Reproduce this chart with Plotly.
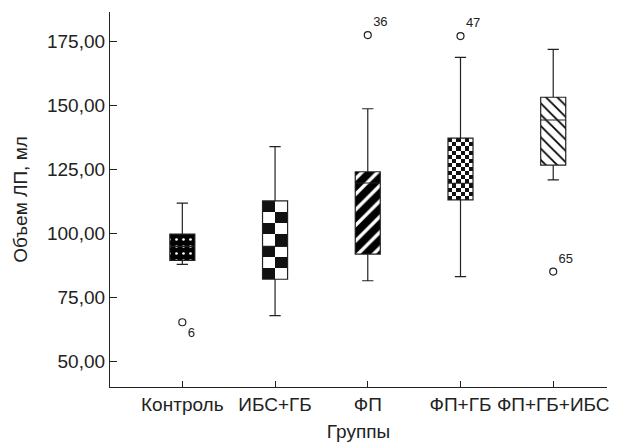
import plotly.graph_objects as go

categories = ["Контроль", "ИБС+ГБ", "ФП", "ФП+ГБ", "ФП+ГБ+ИБС"]
q1 = [89.6, 82.2, 92.0, 113.2, 126.8]
median = [95.0, 95.0, 119.8, 119.7, 144.4]
q3 = [99.8, 112.8, 124.2, 137.3, 153.3]
lower = [88.0, 68.0, 81.6, 83.2, 121.0]
upper = [111.9, 134.0, 148.8, 168.9, 172.0]

out_x = ["Контроль", "ФП", "ФП+ГБ", "ФП+ГБ+ИБС"]
out_y = [65.4, 177.6, 177.2, 85.2]
out_lbl = ["6", "36", "47", "65"]
out_pos = ["bottom right", "top right", "top right", "top right"]

y_ticks = [50, 75, 100, 125, 150, 175]
y_ticktext = ["50,00", "75,00", "100,00", "125,00", "150,00", "175,00"]

BW = 0.27
FONT = "Liberation Sans, Arial, sans-serif"
FS = 19

fig = go.Figure()

patterns = {
    "Контроль": dict(shape=".", fgcolor="white", bgcolor="#000", size=7, solidity=0.12, fgopacity=1),
    "ФП": dict(shape="/", fgcolor="#000", bgcolor="white", size=11, solidity=0.7, fgopacity=1),
    "ФП+ГБ+ИБС": dict(shape="\\", fgcolor="#000", bgcolor="white", size=8, solidity=0.22, fgopacity=1),
}

for i, c in enumerate(categories):
    if c in patterns:
        fig.add_trace(go.Bar(
            x=[c], y=[q3[i] - q1[i]], base=[q1[i]], width=BW,
            marker=dict(color="white", pattern=patterns[c], line=dict(width=0)),
            showlegend=False, hoverinfo="skip"))

def checker(cat, lo, hi, ncols, nrows):
    h = (hi - lo) / nrows
    w = BW / ncols
    for r in range(nrows):
        for col in range(ncols):
            color = "#111" if (r + col) % 2 == 0 else "white"
            fig.add_trace(go.Bar(
                x=[cat], y=[h], base=[lo + r * h], width=w,
                offset=-BW / 2 + col * w,
                marker=dict(color=color, line=dict(width=0)),
                showlegend=False, hoverinfo="skip"))

checker("ИБС+ГБ", q1[1], q3[1], 2, 7)
checker("ФП+ГБ", q1[3], q3[3], 6, 15)

fig.add_trace(go.Box(
    x=categories, q1=q1, median=median, q3=q3,
    lowerfence=lower, upperfence=upper,
    width=BW, whiskerwidth=0.45, boxpoints=False,
    fillcolor="rgba(0,0,0,0)", line=dict(color="#222", width=1.2),
    showlegend=False))

fig.add_trace(go.Scatter(
    x=out_x, y=out_y, mode="markers+text", text=out_lbl,
    textposition=out_pos,
    textfont=dict(family=FONT, size=13, color="#222"),
    marker=dict(symbol="circle-open", size=7, color="#222", line=dict(width=1.2)),
    showlegend=False))

fig.update_layout(
    width=619, height=444,
    margin=dict(l=110, r=12, t=12, b=57),
    paper_bgcolor="white", plot_bgcolor="white",
    barmode="overlay", bargap=0,
    font=dict(family=FONT, size=FS, color="#222"),
    showlegend=False,
)
fig.update_xaxes(
    type="category", categoryorder="array", categoryarray=categories,
    range=[-0.78, 4.58], automargin=False,
    showline=True, linecolor="#222", linewidth=1.2,
    ticks="inside", ticklen=6, tickcolor="#222",
    showgrid=False, zeroline=False,
    tickfont=dict(size=FS),
    title=dict(text="Группы", font=dict(size=FS), standoff=10),
)
fig.update_yaxes(
    range=[40.1, 186.6], automargin=False,
    tickvals=y_ticks, ticktext=y_ticktext,
    showline=True, linecolor="#222", linewidth=1.2,
    ticks="inside", ticklen=7, tickcolor="#222",
    showgrid=False, zeroline=False,
    tickfont=dict(size=FS),
    title=dict(text="Объем ЛП, мл", font=dict(size=FS), standoff=14),
)

fig.write_html("out.html", config={"displayModeBar": False},
               post_script="document.body.style.margin='0';document.body.style.overflow='hidden';")
